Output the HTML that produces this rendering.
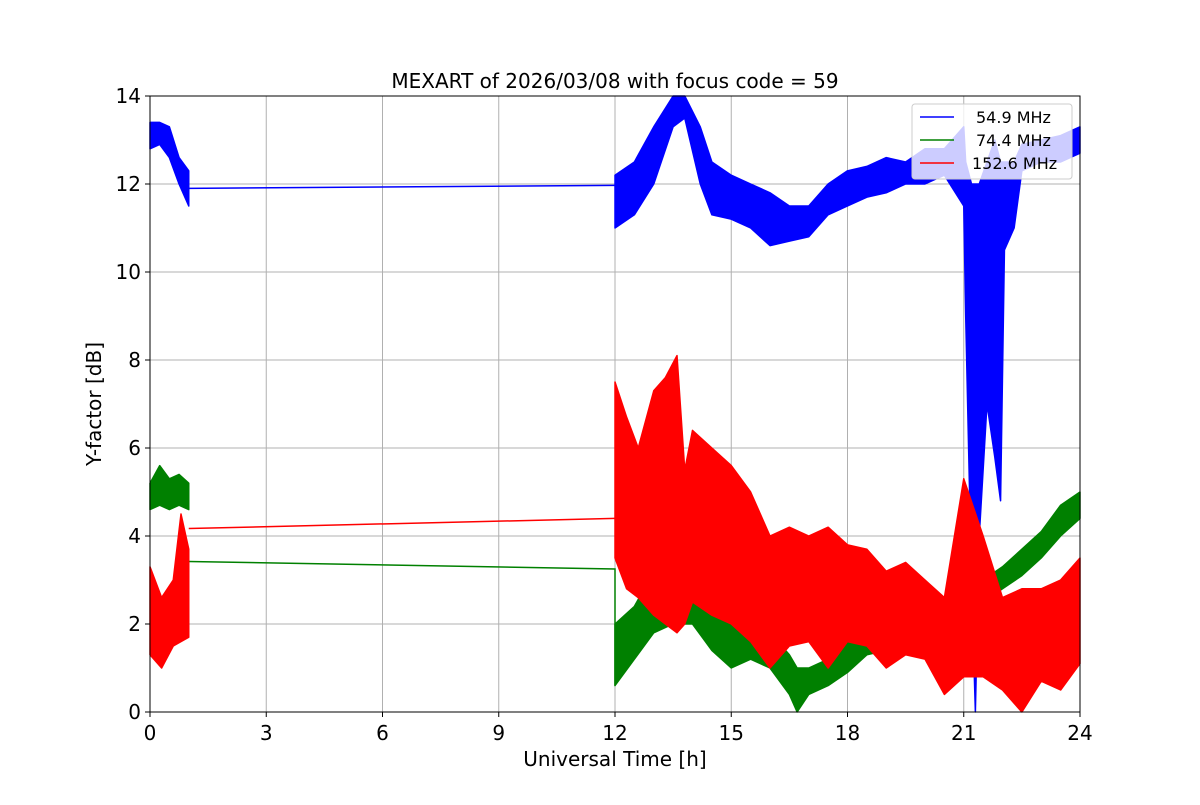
<!DOCTYPE html>
<html><head><meta charset="utf-8"><style>
body{margin:0;background:#fff;font-family:"Liberation Sans","DejaVu Sans",sans-serif;}
svg text{font-family:"DejaVu Sans","Liberation Sans",sans-serif;}
</style></head><body>
<svg id="chart" width="1200" height="800" xmlns="http://www.w3.org/2000/svg"></svg>
<script>
// time (h) of envelope samples, min/max values in dB
const blueT1=[0,0.25,0.5,0.75,1.0];
const blueMin1=[12.8,12.9,12.6,12.0,11.5];
const blueMax1=[13.4,13.4,13.3,12.6,12.3];
const blueGapT=[1.0,12.0];
const blueGapV=[11.9,11.97];
const blueT2=[12,12.5,13,13.5,13.8,14.2,14.5,15,15.5,16,16.5,17,17.5,18,18.5,19,19.5,20,20.5,21,21.05,21.2,21.3,21.4,21.6,21.8,21.95,22.05,22.3,22.5,23,23.5,24];
const blueMin2=[11.0,11.3,12.0,13.3,13.5,12.0,11.3,11.2,11.0,10.6,10.7,10.8,11.3,11.5,11.7,11.8,12.0,12.0,12.2,11.5,9.0,3.0,0.0,4.0,7.0,5.8,4.8,10.5,11.0,12.3,12.5,12.5,12.7];
const blueMax2=[12.2,12.5,13.3,14.0,14.0,13.3,12.5,12.2,12.0,11.8,11.5,11.5,12.0,12.3,12.4,12.6,12.5,12.8,12.8,13.3,12.5,12.0,12.0,12.0,12.5,13.0,12.5,12.5,12.5,12.9,13.0,13.1,13.3];

const greenT1=[0,0.25,0.5,0.75,1.0];
const greenMin1=[4.6,4.7,4.6,4.7,4.6];
const greenMax1=[5.2,5.6,5.3,5.4,5.2];
const greenGapT=[1.0,12.0,12.0];
const greenGapV=[3.42,3.25,0.6];
const greenT2=[12,12.5,13,13.5,14,14.5,15,15.5,16,16.5,16.7,17,17.5,18,18.5,19,19.5,20,20.5,21,21.5,22,22.5,23,23.5,24];
const greenMin2=[0.6,1.2,1.8,2.0,2.0,1.4,1.0,1.2,1.0,0.4,0.0,0.4,0.6,0.9,1.3,1.4,1.5,1.6,1.8,2.2,2.5,2.8,3.1,3.5,4.0,4.4];
const greenMax2=[2.0,2.4,3.2,2.8,3.2,2.6,2.0,1.8,1.8,1.3,1.0,1.0,1.2,1.6,1.8,1.9,2.0,2.2,2.4,2.8,3.0,3.3,3.7,4.1,4.7,5.0];

const redT1=[0,0.3,0.6,0.8,1.0];
const redMin1=[1.3,1.0,1.5,1.6,1.7];
const redMax1=[3.3,2.6,3.0,4.5,3.7];
const redGapT=[1.0,12.0];
const redGapV=[4.17,4.40];
const redT2=[12,12.3,12.6,13,13.3,13.6,13.8,14,14.5,15,15.5,16,16.5,17,17.5,18,18.5,19,19.5,20,20.5,21,21.5,22,22.5,23,23.5,24];
const redMin2=[3.5,2.8,2.6,2.2,2.0,1.8,2.0,2.5,2.2,2.0,1.6,1.0,1.5,1.6,1.0,1.6,1.5,1.0,1.3,1.2,0.4,0.8,0.8,0.5,0.0,0.7,0.5,1.1];
const redMax2=[7.5,6.7,6.0,7.3,7.6,8.1,5.5,6.4,6.0,5.6,5.0,4.0,4.2,4.0,4.2,3.8,3.7,3.2,3.4,3.0,2.6,5.3,4.0,2.6,2.8,2.8,3.0,3.5];

const xTicks=[0,3,6,9,12,15,18,21,24];
const yTicks=[0,2,4,6,8,10,12,14];

const L=150,R=1080,T=96,B=712;
const xs=t=>L+(R-L)*t/24;
const ys=v=>B-(B-T)*v/14;
const NS="http://www.w3.org/2000/svg";
const svg=document.getElementById('chart');
function mk(tag,attrs,parent){const e=document.createElementNS(NS,tag);for(const k in attrs)e.setAttribute(k,attrs[k]);(parent||svg).appendChild(e);return e;}

const grid=mk('g',{});


xTicks.forEach(t=>mk('line',{x1:xs(t),x2:xs(t),y1:T,y2:B,stroke:'#b0b0b0','stroke-width':1},grid));
yTicks.forEach(v=>mk('line',{x1:L,x2:R,y1:ys(v),y2:ys(v),stroke:'#b0b0b0','stroke-width':1},grid));

function band(T_,mn,mx,color,name){
  let pts=T_.map((t,i)=>xs(t)+','+ys(mx[i]));
  for(let i=T_.length-1;i>=0;i--)pts.push(xs(T_[i])+','+ys(mn[i]));
  const p=mk('polygon',{points:pts.join(' '),fill:color,stroke:color,'stroke-width':1.5,'stroke-linejoin':'round'});
  
  
}
function line(T_,V,color,name){
  const p=mk('polyline',{points:T_.map((t,i)=>xs(t)+','+ys(V[i])).join(' '),fill:'none',stroke:color,'stroke-width':1.5});
  
  
}
band(blueT1,blueMin1,blueMax1,'#0000ff','series-54-9-part1');
line(blueGapT,blueGapV,'#0000ff','series-54-9-gap');
band(blueT2,blueMin2,blueMax2,'#0000ff','series-54-9-part2');
band(greenT1,greenMin1,greenMax1,'#008000','series-74-4-part1');
line(greenGapT,greenGapV,'#008000','series-74-4-gap');
band(greenT2,greenMin2,greenMax2,'#008000','series-74-4-part2');
band(redT1,redMin1,redMax1,'#ff0000','series-152-6-part1');
line(redGapT,redGapV,'#ff0000','series-152-6-gap');
band(redT2,redMin2,redMax2,'#ff0000','series-152-6-part2');

const fr=mk('rect',{x:L,y:T,width:R-L,height:B-T,fill:'none',stroke:'#000','stroke-width':1});


xTicks.forEach(t=>{
  mk('line',{x1:xs(t),x2:xs(t),y1:B,y2:B+5,stroke:'#000'});
  const tx=mk('text',{x:xs(t),y:B+28,'text-anchor':'middle','font-size':20});
  tx.textContent=t;
  
  
});
yTicks.forEach(v=>{
  mk('line',{x1:L-5,x2:L,y1:ys(v),y2:ys(v),stroke:'#000'});
  const tx=mk('text',{x:L-9,y:ys(v)+7,'text-anchor':'end','font-size':20});
  tx.textContent=v;
  
  
});
</script>
<svg style="position:absolute;left:0;top:0" width="1200" height="800">
<text x="615" y="88" text-anchor="middle" font-size="20">MEXART of 2026/03/08 with focus code = 59</text>
<text x="615" y="766" text-anchor="middle" font-size="20">Universal Time [h]</text>
<text transform="translate(101,404) rotate(-90)" text-anchor="middle" font-size="20">Y-factor [dB]</text>
<g>
<rect x="912" y="104" width="160" height="75" rx="3" fill="#fff" fill-opacity="0.8" stroke="#ccc"/>
<line x1="920" x2="954" y1="117" y2="117" stroke="#0000ff" stroke-width="1.5"/>
<text x="976" y="123" font-size="16">54.9 MHz</text>
<line x1="920" x2="954" y1="140" y2="140" stroke="#008000" stroke-width="1.5"/>
<text x="976" y="146" font-size="16">74.4 MHz</text>
<line x1="920" x2="954" y1="163" y2="163" stroke="#ff0000" stroke-width="1.5"/>
<text x="972" y="169" font-size="16">152.6 MHz</text>
</g>
</svg>
</body></html>
